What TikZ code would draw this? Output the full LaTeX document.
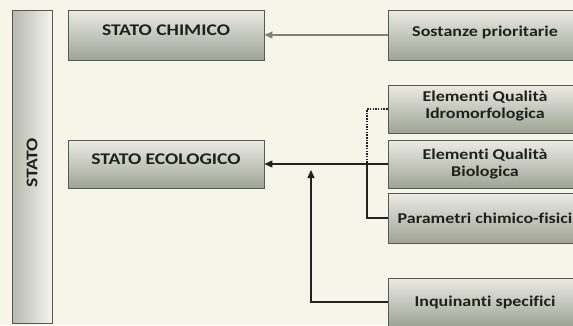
\documentclass[tikz,border=0pt]{standalone}
\usepackage{fontspec}
\setmainfont{Carlito}[FakeStretch=1.2, Ligatures=NoCommon]
\usetikzlibrary{arrows.meta}
\definecolor{bg}{HTML}{F7F5E9}
\definecolor{boxtop}{HTML}{EBEBE3}
\definecolor{boxbot}{HTML}{9FA395}
\definecolor{boxline}{HTML}{555A50}
\definecolor{txt}{HTML}{1F211D}
\definecolor{grayarrow}{HTML}{7C8676}
\definecolor{darkarrow}{HTML}{222222}
\tikzset{
  box/.style={draw=boxline, line width=0.9pt, top color=boxtop, bottom color=boxbot,
    minimum width=194pt, inner sep=0pt},
  ttl/.style={text=txt, font=\fontsize{16.3}{18}\selectfont\bfseries, inner sep=0pt},
  sub/.style={text=txt, font=\fontsize{15}{17}\selectfont\bfseries, align=center, inner sep=0pt},
  bar/.style={draw=boxline, line width=0.9pt, left color=boxbot!70!boxtop, right color=boxtop!60!white,
    minimum width=40pt, minimum height=313pt, inner sep=0pt},
  blk/.style={draw=darkarrow, line width=1.2pt},
  tip/.style={-{Triangle[length=8pt,width=7pt]}},
}
\begin{document}
\begin{tikzpicture}[x=1pt,y=-1pt]
\fill[bg] (0,0) rectangle (573,325);
\useasboundingbox (0,0) rectangle (573,325);
\clip (0,0) rectangle (573,325);
\node[bar] (stato) at (32,166.5) {};
\node[ttl, rotate=90] (statot) at (32,163) {STATO};
\node[box, minimum width=196pt, minimum height=50pt] (chim) at (166,35) {};
\node[ttl] (chimt) at ([yshift=5pt]chim.center) {STATO CHIMICO};
\node[box, minimum width=196pt, minimum height=48pt] (eco) at (166,164) {};
\node[ttl] (ecot) at ([yshift=5pt]eco.center) {STATO ECOLOGICO};
\node[box, minimum height=50pt] (sost) at (485,35) {};
\node[sub] (sostt) at ([yshift=3pt]sost.center) {Sostanze prioritarie};
\node[box, minimum height=48pt] (idro) at (485,109) {};
\node[sub] (idrot) at ([yshift=3pt]idro.center) {Elementi Qualità\\Idromorfologica};
\node[box, minimum height=48pt] (bio) at (485,164) {};
\node[sub] (biot) at (bio.center) {Elementi Qualità\\Biologica};
\node[box, minimum height=50pt] (param) at (485,218) {};
\node[sub] (paramt) at (param.center) {Parametri chimico-fisici};
\node[box, minimum height=48pt] (inq) at (485,302) {};
\node[sub] (inqt) at (inq.center) {Inquinanti specifici};
\coordinate (jn) at (367,164);
\coordinate (it) at (311,170);
\draw[tip, draw=grayarrow, fill=grayarrow, line width=1.2pt] (sost.west) -- (chim.east);
\draw[blk, tip] (bio.west) -- (eco.east);
\draw[darkarrow, line width=1.5pt, dash pattern=on 1.5pt off 1.2pt] (idro.west) -| (jn);
\draw[blk] (param.west) -| (jn);
\draw[blk, tip] (inq.west) -| (it);
\end{tikzpicture}
\end{document}
